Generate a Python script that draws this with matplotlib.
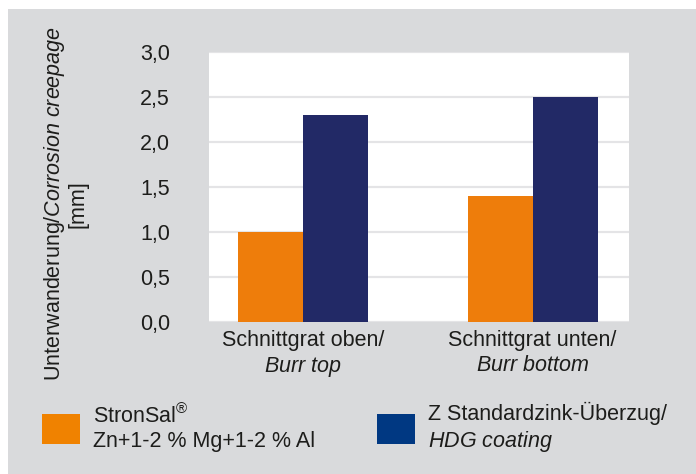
import matplotlib
import matplotlib.pyplot as plt
from matplotlib.patches import Patch, Rectangle

matplotlib.use("Agg")

plt.rcParams["font.family"] = ["Liberation Sans", "DejaVu Sans"]
plt.rcParams["mathtext.fontset"] = "custom"
plt.rcParams["mathtext.rm"] = "Liberation Sans"
plt.rcParams["mathtext.it"] = "Liberation Sans:italic"

# data
groups = ["Schnittgrat oben/\n$\\mathit{Burr\\ top}$",
          "Schnittgrat unten/\n$\\mathit{Burr\\ bottom}$"]
stronsal = [1.0, 1.4]
standard = [2.3, 2.5]
y_ticks = [0.0, 0.5, 1.0, 1.5, 2.0, 2.5, 3.0]
y_tick_labels = ["0,0", "0,5", "1,0", "1,5", "2,0", "2,5", "3,0"]
legend_labels = ["StronSal$^{\\mathrm{®}}$\nZn+1-2 % Mg+1-2 % Al",
                 "Z Standardzink-Überzug/\n$\\mathit{HDG\\ coating}$"]
y_label = "Unterwanderung/$\\mathit{Corrosion\\ creepage}$\n[mm]"

text_color = "#1d1d1b"
bg_gray = "#d9dadc"
fs = 15.5

W, H, DPI = 696, 474, 100
fig = plt.figure(figsize=(W / DPI, H / DPI), dpi=DPI, facecolor="white")
fig.patches.append(Rectangle((8 / W, 0), 1 - 8 / W, 1 - 9 / H,
                             transform=fig.transFigure, facecolor=bg_gray,
                             edgecolor="none", zorder=-10))

ax = fig.add_axes([209 / W, 1 - 322 / H, 420 / W, 270 / H])
ax.set_facecolor("white")

x = list(range(len(groups)))
w = 0.284
ax.bar([i - w / 2 for i in x], stronsal, width=w, color="#ee7d0b", zorder=3)
ax.bar([i + w / 2 for i in x], standard, width=w, color="#222966", zorder=3)

ax.set_xlim(-0.411, 1.42)
ax.set_ylim(0, 3.0)
ax.set_yticks(y_ticks)
ax.set_yticklabels(y_tick_labels, fontsize=fs, color=text_color)
ax.set_xticks(x)
ax.set_xticklabels(groups, fontsize=fs, color=text_color)
ax.tick_params(axis="both", length=0)
ax.tick_params(axis="y", pad=28)
ax.tick_params(axis="x", pad=6)
ax.grid(axis="y", color="#e4e4e6", linewidth=1.6, zorder=0)
for s in ax.spines.values():
    s.set_visible(False)

ax.set_ylabel(y_label, fontsize=fs, color=text_color, linespacing=1.0)
ax.yaxis.set_label_coords((88 - 209) / 420, (322 - 204) / 270)

handles = [Patch(facecolor="#f08200", edgecolor="none"),
           Patch(facecolor="#003882", edgecolor="none")]
fig.legend(handles, legend_labels, loc="center left",
           bbox_to_anchor=(42 / W, 1 - 428 / H), ncol=2, frameon=False,
           fontsize=fs, handlelength=1.75, handleheight=1.8,
           handletextpad=0.6, columnspacing=2.9, borderpad=0,
           borderaxespad=0, labelcolor=text_color, labelspacing=0.2)

fig.savefig("out.png", dpi=DPI, facecolor=fig.get_facecolor())
plt.close(fig)
